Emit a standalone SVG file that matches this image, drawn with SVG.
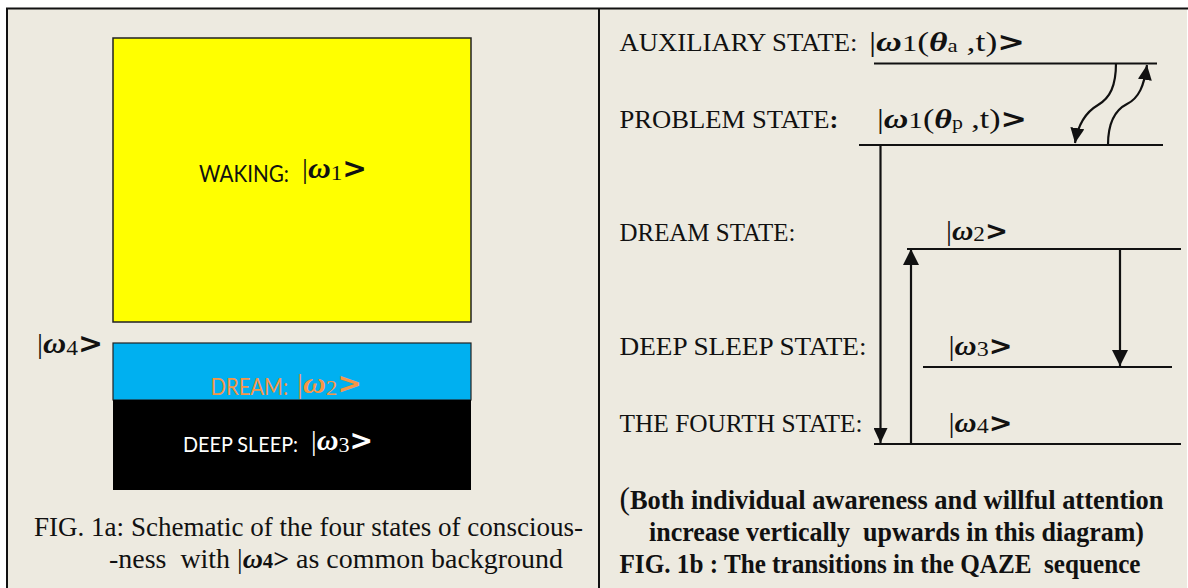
<svg xmlns="http://www.w3.org/2000/svg" width="1188" height="588" viewBox="0 0 1188 588">
<defs>
<style>
text{white-space:pre}
.st{font-family:"Liberation Serif",serif;font-size:26px;fill:#111}
.cap{font-family:"Liberation Serif",serif;font-size:27px;fill:#111}
.capb{font-family:"Liberation Serif",serif;font-size:27px;font-weight:bold;fill:#111}
.sans{font-family:Lato,"Liberation Sans",sans-serif;font-size:23px}
.ket{font-family:"Liberation Serif",serif;font-size:28px;fill:#111}
.bi{font-weight:bold;font-style:italic}
.b{font-weight:bold}
.gt{font-family:"DejaVu Sans",sans-serif;font-weight:bold}
.lvl{stroke:#111;stroke-width:2;fill:none}
.arr{stroke:#111;stroke-width:2.2;fill:none}
</style>
<marker id="ah" viewBox="0 0 16 16" refX="16" refY="8" markerUnits="userSpaceOnUse" markerWidth="16" markerHeight="16" orient="auto">
<path d="M0,0 L16,8 L0,16 Z" fill="#111"/>
</marker>
<marker id="ahs" viewBox="0 0 15 14" refX="15" refY="7" markerUnits="userSpaceOnUse" markerWidth="15" markerHeight="14" orient="auto">
<path d="M0,0 L15,7 L0,14 Z" fill="#111"/>
</marker>
</defs>
<rect x="0" y="0" width="1188" height="588" fill="#ffffff"/>
<rect x="7" y="8" width="1180" height="580" fill="#EDEAE0"/>
<g id="frame">
<line x1="6" y1="8.5" x2="1188" y2="8.5" stroke="#111" stroke-width="2"/>
<line x1="7" y1="8" x2="7" y2="588" stroke="#111" stroke-width="2"/>
<line x1="599" y1="8" x2="599" y2="588" stroke="#111" stroke-width="2"/>
</g>

<g id="waking">
<rect x="113" y="38" width="358" height="284" fill="#FFFF00" stroke="#222" stroke-width="1.5"/>
<text class="sans" x="199" y="182" fill="#111" textLength="90" lengthAdjust="spacingAndGlyphs">WAKING:</text>
<text class="ket" x="302" y="178" textLength="65" lengthAdjust="spacingAndGlyphs">|<tspan class="bi" font-size="30">ω</tspan><tspan font-size="22" dy="2">1</tspan><tspan class="gt" font-size="28" dy="-2">&gt;</tspan></text>
</g>

<g id="fourth-bg">
<text class="ket" x="37" y="353" textLength="66" lengthAdjust="spacingAndGlyphs">|<tspan class="bi" font-size="30">ω</tspan><tspan font-size="22" dy="2">4</tspan><tspan class="gt" font-size="28" dy="-2">&gt;</tspan></text>
</g>

<g id="dream">
<rect x="113" y="343" width="358" height="57" fill="#00B0F0" stroke="#222" stroke-width="1.2"/>
<text class="sans" x="210.5" y="395" fill="#F79646" textLength="77.5" lengthAdjust="spacingAndGlyphs">DREAM:</text>
<text class="ket" x="297" y="393" style="fill:#F79646" textLength="65" lengthAdjust="spacingAndGlyphs">|<tspan class="bi" font-size="30">ω</tspan><tspan font-size="22" dy="2">2</tspan><tspan class="gt" font-size="28" dy="-2">&gt;</tspan></text>
</g>

<g id="deep-sleep">
<rect x="113" y="400" width="358" height="90" fill="#000000"/>
<text class="sans" x="183" y="452" fill="#ffffff" font-size="21" style="font-size:21px" textLength="115" lengthAdjust="spacingAndGlyphs">DEEP SLEEP:</text>
<text class="ket" x="311" y="450" style="fill:#ffffff" textLength="62" lengthAdjust="spacingAndGlyphs">|<tspan class="bi" font-size="30">ω</tspan><tspan font-size="22" dy="2">3</tspan><tspan class="gt" font-size="28" dy="-2">&gt;</tspan></text>
</g>

<g id="caption-1a">
<text class="cap" x="34" y="536" textLength="549" lengthAdjust="spacingAndGlyphs">FIG. 1a: Schematic of the four states of conscious-</text>
<text class="cap" x="109" y="568" textLength="454" lengthAdjust="spacingAndGlyphs">-ness  with |<tspan class="bi">ω</tspan><tspan class="b" font-size="20">4</tspan><tspan class="b">&gt;</tspan> as common background</text>
</g>

<g id="aux-state">
<text class="st" x="619.5" y="51" textLength="238" lengthAdjust="spacingAndGlyphs">AUXILIARY STATE:</text>
<text class="ket" x="869" y="51" textLength="156" lengthAdjust="spacingAndGlyphs">|<tspan class="bi">ω</tspan><tspan font-size="24">1</tspan>(<tspan class="bi">θ</tspan><tspan font-size="18" dy="1">a</tspan><tspan dy="-1"> ,t)</tspan><tspan class="gt" font-size="26">&gt;</tspan></text>
<line class="lvl" x1="874" y1="63.5" x2="1157" y2="63.5"/>
</g>

<g id="problem-state">
<text class="st" x="619.5" y="128" textLength="219" lengthAdjust="spacingAndGlyphs">PROBLEM STATE<tspan class="b">:</tspan></text>
<text class="ket" x="877" y="128" textLength="150" lengthAdjust="spacingAndGlyphs">|<tspan class="bi">ω</tspan><tspan font-size="24">1</tspan>(<tspan class="bi">θ</tspan><tspan font-size="18" dy="1">p</tspan><tspan dy="-1"> ,t)</tspan><tspan class="gt" font-size="26">&gt;</tspan></text>
<line class="lvl" x1="859" y1="145" x2="1163" y2="145"/>
</g>

<g id="dream-state">
<text class="st" x="619.5" y="241" textLength="176" lengthAdjust="spacingAndGlyphs">DREAM STATE:</text>
<text class="ket" x="946" y="240" textLength="62" lengthAdjust="spacingAndGlyphs">|<tspan class="bi">ω</tspan><tspan font-size="22" dy="1">2</tspan><tspan class="gt" font-size="26" dy="-1">&gt;</tspan></text>
<line class="lvl" x1="907" y1="249" x2="1181" y2="249"/>
</g>

<g id="deep-sleep-state">
<text class="st" x="619.5" y="355" textLength="247" lengthAdjust="spacingAndGlyphs">DEEP SLEEP STATE:</text>
<text class="ket" x="948.5" y="355" textLength="64" lengthAdjust="spacingAndGlyphs">|<tspan class="bi">ω</tspan><tspan font-size="22" dy="1">3</tspan><tspan class="gt" font-size="26" dy="-1">&gt;</tspan></text>
<line class="lvl" x1="923" y1="367" x2="1172" y2="367"/>
</g>

<g id="fourth-state">
<text class="st" x="619.5" y="432" textLength="243" lengthAdjust="spacingAndGlyphs">THE FOURTH STATE:</text>
<text class="ket" x="948.5" y="432" textLength="64" lengthAdjust="spacingAndGlyphs">|<tspan class="bi">ω</tspan><tspan font-size="22" dy="1">4</tspan><tspan class="gt" font-size="26" dy="-1">&gt;</tspan></text>
<line class="lvl" x1="874" y1="444" x2="1181" y2="444"/>
</g>

<g id="connectors">
<path class="arr" d="M1116,63 C1116,86 1110,98 1098,105 C1086,112 1078,124 1075,143" marker-end="url(#ahs)"/>
<path class="arr" d="M1108,145 C1108,122 1115,110 1127,104 C1139,98 1144,86 1147,65" marker-end="url(#ahs)"/>
<line class="arr" x1="880.5" y1="145" x2="880.5" y2="443" marker-end="url(#ahs)"/>
<line class="arr" x1="911" y1="444" x2="911" y2="249" stroke-width="2.6" marker-end="url(#ah)"/>
<line class="arr" x1="1120" y1="249" x2="1120" y2="366" marker-end="url(#ah)"/>
</g>

<g id="caption-1b">
<text class="capb" x="619.5" y="509" textLength="544" lengthAdjust="spacingAndGlyphs"><tspan font-size="32" font-weight="normal">(</tspan>Both individual awareness and willful attention</text>
<text class="capb" x="649" y="541" textLength="495" lengthAdjust="spacingAndGlyphs">increase vertically  upwards in this diagram)</text>
<text class="capb" x="619.5" y="573" textLength="521" lengthAdjust="spacingAndGlyphs">FIG. 1b : The transitions in the QAZE  sequence</text>
</g>
</svg>
